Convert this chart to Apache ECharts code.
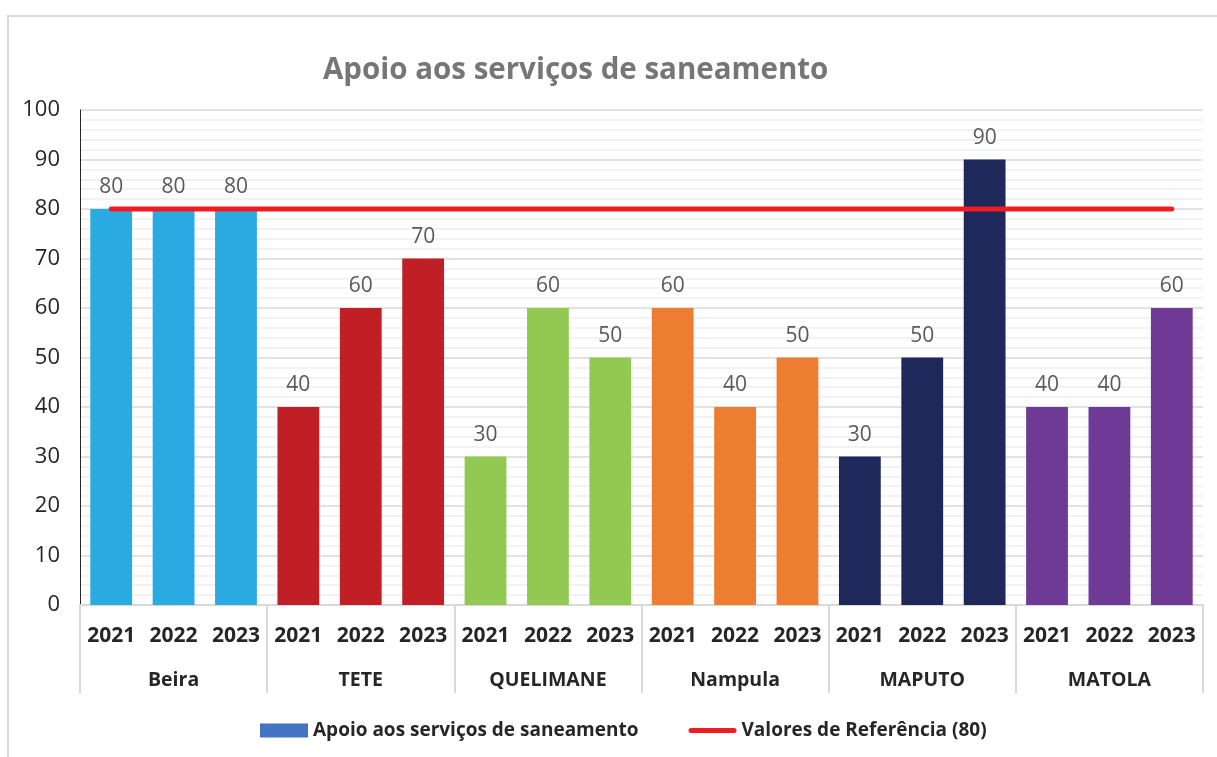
<!DOCTYPE html>
<html>
<head>
<meta charset="utf-8">
<title>Apoio aos serviços de saneamento</title>
<script src="https://cdn.jsdelivr.net/npm/echarts@6/dist/echarts.min.js"></script>
<style>
  html, body { margin: 0; padding: 0; background: #ffffff; }
  #chart { width: 1217px; height: 757px; }
</style>
</head>
<body>
<div id="chart"></div>
<script>
// Cities and the years measured in each one
const cities = ['Beira', 'TETE', 'QUELIMANE', 'Nampula', 'MAPUTO', 'MATOLA'];
const years = ['2021', '2022', '2023'];

// Support score per city, one value per year (2021, 2022, 2023)
const beira = [80, 80, 80];
const tete = [40, 60, 70];
const quelimane = [30, 60, 50];
const nampula = [60, 40, 50];
const maputo = [30, 50, 90];
const matola = [40, 40, 60];

// Reference value drawn across all bars
const referenceValue = 80;

// Bar colour for each city
const cityColors = ['#29abe2', '#c01f26', '#92c953', '#ed7d31', '#1f285a', '#6f3996'];

const seriesName = 'Apoio aos serviços de saneamento';
const refName = 'Valores de Referência (80)';

const cityValues = [beira, tete, quelimane, nampula, maputo, matola];

// Flatten into one category per (city, year)
const yearLabels = [];
const barData = [];
const refData = [];
cities.forEach((c, ci) => {
  years.forEach((y, yi) => {
    yearLabels.push(y);
    barData.push({ value: cityValues[ci][yi], itemStyle: { color: cityColors[ci] } });
    refData.push(referenceValue);
  });
});

const FONT = '"Open Sans", "Noto Sans", sans-serif';
const chart = echarts.init(document.getElementById('chart'), null, { renderer: 'canvas' });

chart.setOption({
  backgroundColor: '#ffffff',
  animation: false,
  textStyle: { fontFamily: FONT },
  title: {
    text: seriesName,
    left: 318,
    top: 51,
    textStyle: { fontFamily: FONT, fontSize: 29.5, fontWeight: 'bold', color: '#767676' }
  },
  graphic: [{
    type: 'rect',
    shape: { x: 8, y: 16, width: 1300, height: 800 },
    style: { fill: 'none', stroke: '#d9d9d9', lineWidth: 2 },
    silent: true,
    z: -10
  }],
  legend: {
    left: 255,
    top: 716,
    itemWidth: 48,
    itemHeight: 14,
    itemGap: 50,
    textStyle: { fontFamily: FONT, fontSize: 19, fontWeight: 'bold', color: '#262626' },
    data: [
      { name: seriesName, icon: 'rect', itemStyle: { color: '#4472c4' } },
      { name: refName, icon: 'path://M2.5,0 L45.5,0 A2.5,2.5 0 0 1 45.5,5 L2.5,5 A2.5,2.5 0 0 1 2.5,0 Z', itemStyle: { color: '#ee1d23' } }
    ]
  },
  grid: { left: 80, right: 14, top: 110, bottom: 152, containLabel: false },
  xAxis: [
    {
      type: 'category',
      data: yearLabels,
      position: 'bottom',
      axisLine: { show: true, lineStyle: { color: '#d9d9d9', width: 2 } },
      axisTick: { show: false },
      axisLabel: {
        interval: 0, margin: 21,
        fontFamily: FONT, fontSize: 21, fontWeight: 'bold', color: '#262626'
      }
    },
    {
      type: 'category',
      data: cities,
      position: 'bottom',
      axisLine: { show: true, lineStyle: { color: '#d9d9d9', width: 2 } },
      axisTick: { show: true, length: 88, interval: 0, lineStyle: { color: '#d9d9d9', width: 2 } },
      axisLabel: {
        interval: 0, margin: 65,
        fontFamily: FONT, fontSize: 19.5, fontWeight: 'bold', color: '#262626'
      }
    }
  ],
  yAxis: {
    type: 'value',
    min: 0,
    max: 100,
    interval: 10,
    axisLine: { show: true, lineStyle: { color: '#262626', width: 1 } },
    axisTick: { show: false },
    axisLabel: { margin: 20, fontFamily: FONT, fontSize: 22, color: '#262626' },
    splitLine: { show: true, lineStyle: { color: '#d9d9d9', width: 1.5 } },
    minorTick: { show: false, splitNumber: 5 },
    minorSplitLine: { show: true, lineStyle: { color: '#eeeeee', width: 1.5 } }
  },
  series: [
    {
      name: seriesName,
      type: 'bar',
      xAxisIndex: 0,
      data: barData,
      barCategoryGap: '33%',
      itemStyle: { color: '#4472c4' },
      label: {
        show: true,
        position: 'top',
        distance: 11,
        fontFamily: FONT,
        fontSize: 21,
        color: '#595959'
      },
      z: 2
    },
    {
      name: refName,
      type: 'line',
      xAxisIndex: 0,
      data: refData,
      symbol: 'none',
      lineStyle: { color: '#ee1d23', width: 5, cap: 'round' },
      itemStyle: { color: '#ee1d23' },
      z: 5
    }
  ]
});
</script>
</body>
</html>
